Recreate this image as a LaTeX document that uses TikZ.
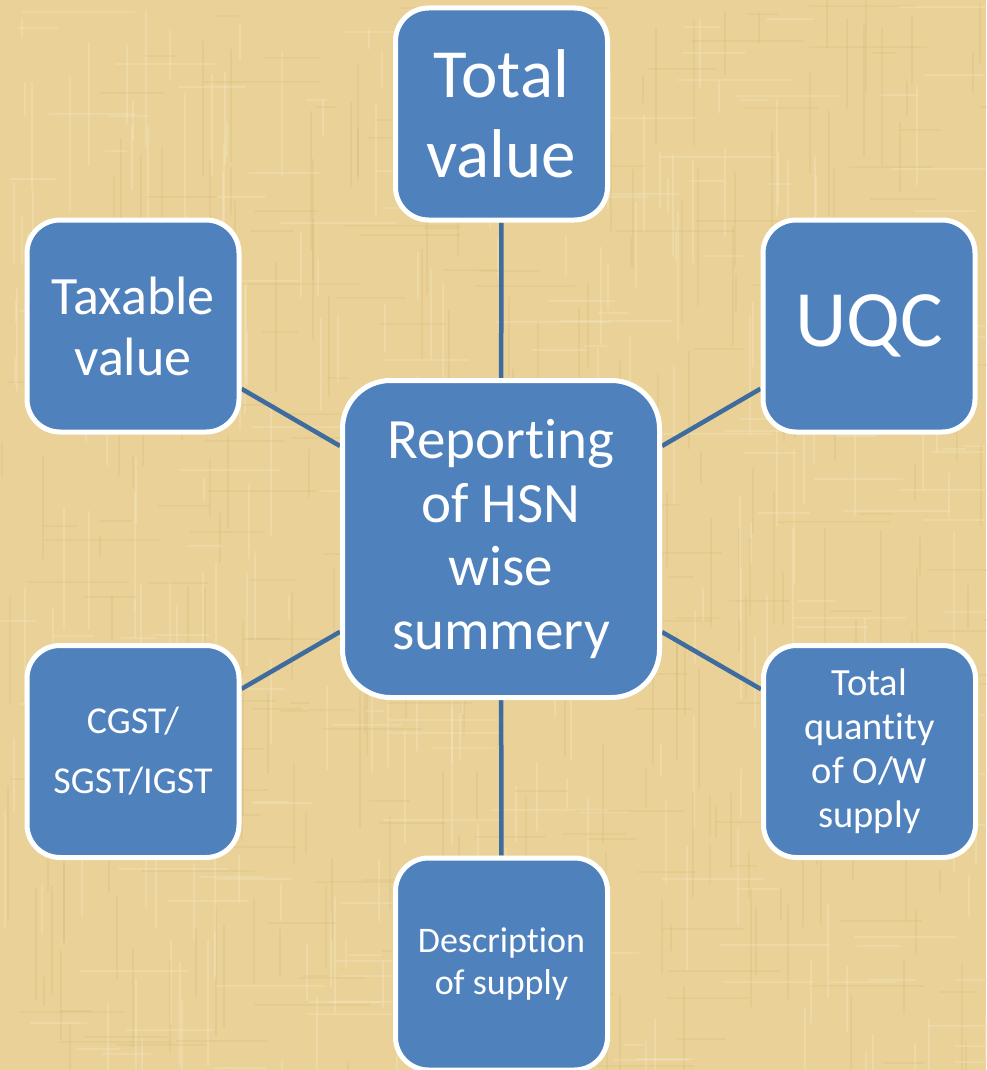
\documentclass[tikz,border=0pt]{standalone}
\usepackage{fontspec}
\setmainfont{Carlito}[Ligatures=NoCommon]
\definecolor{boxblue}{HTML}{4F81BD}
\definecolor{linkblue}{HTML}{3F6C9F}
\definecolor{paper}{HTML}{E9D197}
\definecolor{paperdark}{HTML}{B89A5C}
\definecolor{paperlight}{HTML}{F6E9C4}
\pgfdeclarelayer{paperlayer}
\pgfdeclarelayer{linklayer}
\pgfsetlayers{paperlayer,linklayer,main}
\begin{document}
\begin{tikzpicture}[x=1pt,y=-1pt,
  box/.style={draw=white, line width=5pt, fill=boxblue, rounded corners=33pt,
    minimum width=212pt, minimum height=212pt, text=white, align=center, inner sep=0pt},
  hub/.style={box, rounded corners=48pt, minimum width=317pt, minimum height=317pt},
  link/.style={draw=linkblue, line width=4.5pt}]

\useasboundingbox (0,0) rectangle (986,1070);
\clip (0,0) rectangle (986,1070);

% parchment background with woven streaks
\begin{pgfonlayer}{paperlayer}
  \fill[paper] (0,0) rectangle (986,1070);
  \pgfmathsetseed{42}
  \foreach \i in {1,...,220}{
    \pgfmathsetmacro\xx{random(0,986)}
    \pgfmathsetmacro\yy{random(0,1070)}
    \pgfmathsetmacro\ll{random(20,140)}
    \draw[paperdark, opacity=0.12, line width=2pt] (\xx,\yy) -- ++(0,\ll);
    \pgfmathsetmacro\xa{random(0,986)}
    \pgfmathsetmacro\ya{random(0,1070)}
    \draw[paperlight, opacity=0.35, line width=2.5pt] (\xa,\ya) -- ++(0,\ll);
  }
  \foreach \i in {1,...,160}{
    \pgfmathsetmacro\xx{random(0,986)}
    \pgfmathsetmacro\yy{random(0,1070)}
    \pgfmathsetmacro\ll{random(20,120)}
    \draw[paperdark, opacity=0.10, line width=2pt] (\xx,\yy) -- ++(\ll,0);
    \pgfmathsetmacro\xa{random(0,986)}
    \pgfmathsetmacro\ya{random(0,1070)}
    \draw[paperlight, opacity=0.3, line width=2.5pt] (\xa,\ya) -- ++(\ll,0);
  }
\end{pgfonlayer}

% boxes
\node[hub, font=\fontsize{57}{63.5}\selectfont] (hsn) at (501,539) {Reporting\\of HSN\\wise\\summery};
\node[box, font=\fontsize{69}{80}\selectfont] (total) at (501.5,114) {Total\\value};
\node[box, font=\fontsize{54}{61}\selectfont] (taxable) at (133,326) {Taxable\\value};
\node[box, font=\fontsize{80}{90}\selectfont] (uqc) at (869,326) {UQC};
\node[box, font=\fontsize{38}{60}\selectfont] (gst) at (133,751.5) {CGST/\\SGST/IGST};
\node[box, font=\fontsize{38.5}{44}\selectfont] (qty) at (869.5,751.5) {Total\\quantity\\of O/W\\supply};
\node[box, font=\fontsize{36}{42}\selectfont] (desc) at (501.5,964) {Description\\of supply};

% connectors from the hub to each box
\begin{pgfonlayer}{linklayer}
  \draw[link] (hsn) -- (total);
  \draw[link] (hsn) -- (taxable);
  \draw[link] (hsn) -- (uqc);
  \draw[link] (hsn) -- (gst);
  \draw[link] (hsn) -- (qty);
  \draw[link] (hsn) -- (desc);
\end{pgfonlayer}
\end{tikzpicture}
\end{document}
